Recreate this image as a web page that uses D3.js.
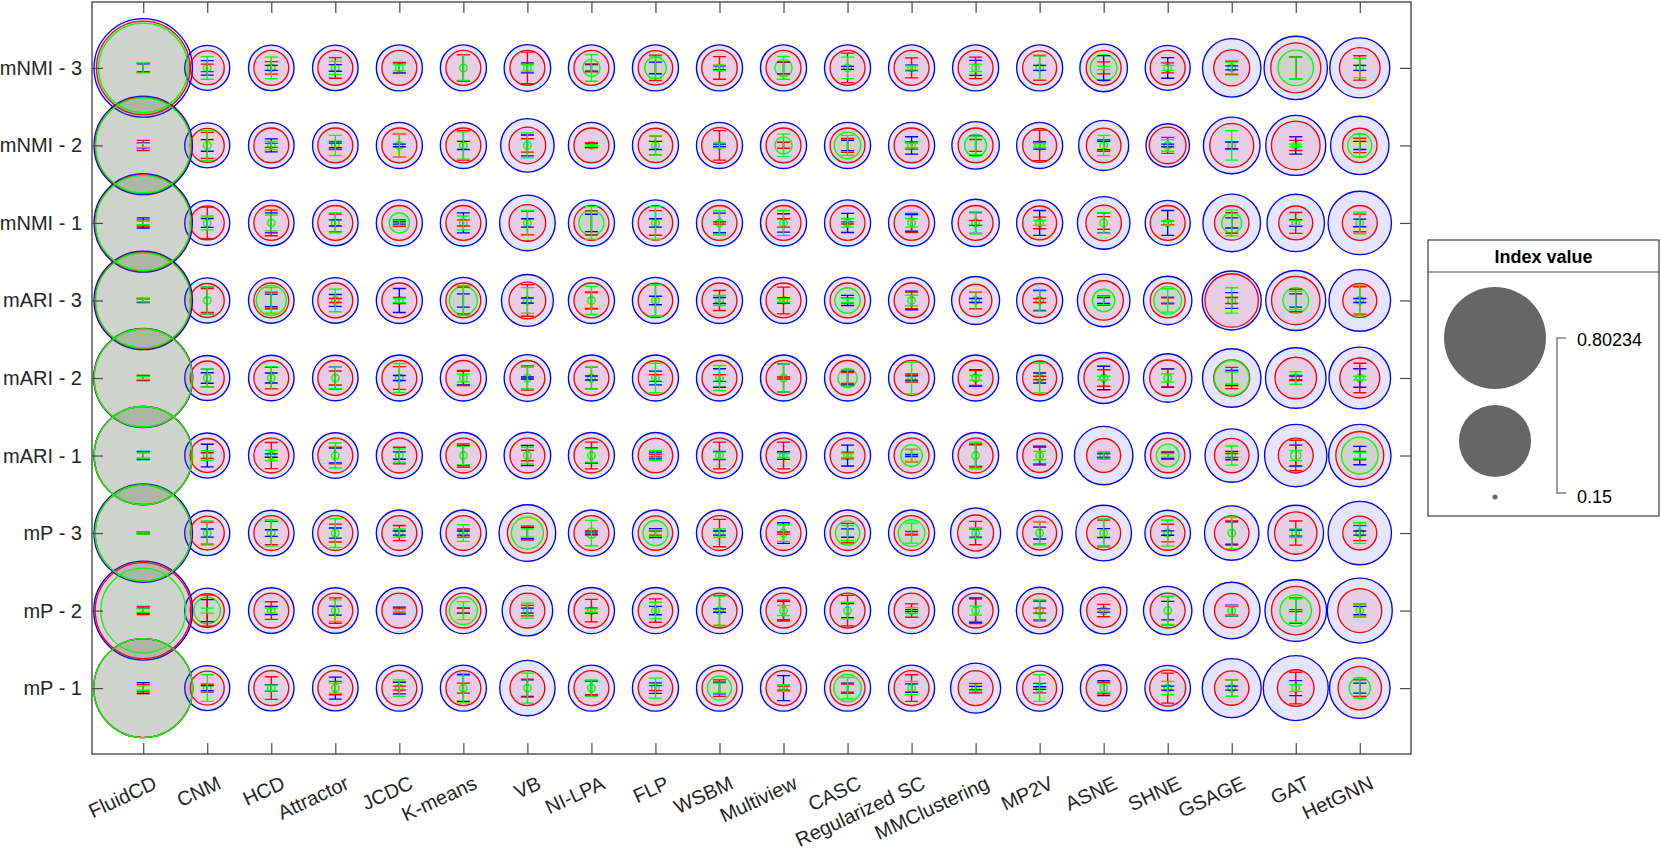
<!DOCTYPE html>
<html>
<head>
<meta charset="utf-8">
<script src="https://cdn.jsdelivr.net/npm/d3@7"></script>
<style>
  html, body { margin: 0; padding: 0; background: #ffffff; }
  svg { display: block; font-family: "Liberation Sans", Arial, Helvetica, sans-serif; }
</style>
</head>
<body>
<svg id="chart" width="1661" height="854"></svg>
<script>
// ---------------- DATA ----------------
const methods = ["FluidCD","CNM","HCD","Attractor","JCDC","K-means","VB","NI-LPA","FLP","WSBM",
  "Multiview","CASC","Regularized SC","MMClustering","MP2V","ASNE","SHNE","GSAGE","GAT","HetGNN"];
// rows listed top to bottom
const rowLabels = ["mNMI - 3","mNMI - 2","mNMI - 1","mARI - 3","mARI - 2","mARI - 1","mP - 3","mP - 2","mP - 1"];

const sizeLimits = [0.15, 0.80234];
const legendTitle = "Index value";
const legendLabels = ["0.80234", "0.15"];

// bubble values (index value), rows top to bottom, columns = methods
const blueVal = [
  [0.757,0.276,0.279,0.279,0.282,0.282,0.285,0.282,0.282,0.282,0.282,0.282,0.282,0.282,0.282,0.291,0.276,0.363,0.401,0.375],
  [0.757,0.276,0.279,0.279,0.282,0.282,0.328,0.282,0.282,0.282,0.282,0.282,0.282,0.290,0.282,0.306,0.267,0.350,0.375,0.363],
  [0.757,0.276,0.279,0.279,0.282,0.282,0.343,0.282,0.282,0.282,0.282,0.282,0.282,0.290,0.282,0.322,0.276,0.357,0.356,0.401],
  [0.757,0.276,0.279,0.279,0.282,0.282,0.318,0.282,0.282,0.282,0.282,0.282,0.282,0.293,0.282,0.322,0.296,0.367,0.375,0.387],
  [0.764,0.276,0.279,0.279,0.282,0.282,0.285,0.282,0.282,0.282,0.282,0.282,0.282,0.282,0.282,0.312,0.296,0.363,0.379,0.387],
  [0.757,0.276,0.279,0.279,0.282,0.282,0.285,0.282,0.282,0.282,0.282,0.282,0.282,0.282,0.278,0.363,0.279,0.328,0.393,0.393],
  [0.757,0.276,0.279,0.279,0.282,0.282,0.350,0.282,0.282,0.282,0.282,0.282,0.282,0.306,0.278,0.343,0.279,0.335,0.343,0.401],
  [0.764,0.276,0.279,0.279,0.282,0.282,0.309,0.282,0.282,0.282,0.282,0.282,0.282,0.282,0.285,0.285,0.296,0.350,0.387,0.414],
  [0.764,0.276,0.279,0.279,0.282,0.282,0.341,0.282,0.282,0.282,0.282,0.282,0.282,0.306,0.282,0.285,0.279,0.367,0.414,0.379]
];
const redVal = [
  [0.697,0.221,0.225,0.225,0.225,0.225,0.225,0.225,0.223,0.228,0.225,0.225,0.225,0.225,0.221,0.225,0.225,0.230,0.306,0.252],
  [0.728,0.221,0.225,0.225,0.225,0.225,0.233,0.225,0.223,0.228,0.225,0.225,0.225,0.225,0.221,0.224,0.233,0.270,0.297,0.223],
  [0.728,0.221,0.225,0.225,0.225,0.225,0.233,0.225,0.223,0.225,0.225,0.225,0.225,0.225,0.221,0.228,0.225,0.223,0.221,0.225],
  [0.728,0.221,0.225,0.225,0.225,0.225,0.233,0.225,0.223,0.225,0.225,0.225,0.225,0.215,0.221,0.246,0.225,0.328,0.296,0.221],
  [0.757,0.221,0.225,0.225,0.225,0.225,0.225,0.225,0.223,0.225,0.225,0.225,0.225,0.225,0.221,0.246,0.230,0.230,0.257,0.249],
  [0.752,0.221,0.225,0.225,0.225,0.225,0.225,0.225,0.223,0.225,0.225,0.225,0.225,0.225,0.221,0.221,0.223,0.223,0.225,0.293],
  [0.728,0.221,0.225,0.225,0.225,0.225,0.249,0.225,0.223,0.225,0.225,0.225,0.225,0.230,0.221,0.221,0.223,0.223,0.261,0.221],
  [0.728,0.221,0.225,0.225,0.225,0.225,0.225,0.225,0.223,0.225,0.225,0.225,0.225,0.225,0.221,0.221,0.225,0.223,0.296,0.270],
  [0.764,0.221,0.225,0.225,0.225,0.225,0.225,0.225,0.223,0.225,0.225,0.225,0.225,0.225,0.221,0.225,0.230,0.223,0.233,0.267]
];
const greenVal = [
  [0.651,0.152,0.152,0.152,0.152,0.152,0.152,0.167,0.178,0.152,0.167,0.152,0.152,0.152,0.152,0.193,0.152,0.152,0.228,0.152],
  [0.716,0.152,0.152,0.152,0.152,0.152,0.152,0.152,0.152,0.152,0.167,0.193,0.152,0.179,0.154,0.152,0.152,0.152,0.152,0.185],
  [0.716,0.152,0.152,0.152,0.174,0.152,0.152,0.188,0.152,0.152,0.152,0.152,0.152,0.152,0.152,0.152,0.152,0.174,0.152,0.152],
  [0.716,0.152,0.205,0.152,0.152,0.198,0.152,0.152,0.152,0.152,0.152,0.189,0.152,0.152,0.152,0.180,0.197,0.152,0.190,0.152],
  [0.752,0.152,0.152,0.152,0.152,0.152,0.152,0.152,0.152,0.152,0.152,0.172,0.152,0.152,0.152,0.152,0.152,0.225,0.152,0.152],
  [0.752,0.152,0.152,0.152,0.152,0.152,0.152,0.152,0.152,0.152,0.152,0.152,0.178,0.152,0.152,0.152,0.181,0.152,0.155,0.233],
  [0.728,0.152,0.152,0.152,0.152,0.152,0.213,0.155,0.188,0.152,0.152,0.186,0.193,0.152,0.152,0.152,0.152,0.152,0.152,0.152],
  [0.603,0.193,0.152,0.152,0.152,0.198,0.152,0.152,0.152,0.152,0.152,0.152,0.152,0.152,0.152,0.152,0.152,0.152,0.211,0.152],
  [0.764,0.152,0.152,0.152,0.152,0.152,0.152,0.152,0.152,0.185,0.152,0.196,0.152,0.152,0.152,0.152,0.152,0.152,0.152,0.177]
];

// error bar half-lengths (in row units), rows top to bottom
const blueErr = [
  [0.052,0.093,0.032,0.043,0.065,0.168,0.065,0.043,0.075,0.026,0.075,0.019,0.036,0.097,0.032,0.159,0.133,0.026,0.139,0.032],
  [0.032,0.075,0.084,0.030,0.017,0.052,0.135,0.026,0.052,0.017,0.039,0.067,0.112,0.123,0.048,0.054,0.017,0.043,0.112,0.052],
  [0.065,0.058,0.129,0.039,0.015,0.129,0.054,0.112,0.054,0.126,0.119,0.123,0.107,0.135,0.161,0.129,0.161,0.065,0.043,0.049],
  [0.026,0.172,0.081,0.077,0.155,0.086,0.032,0.107,0.055,0.039,0.032,0.065,0.120,0.026,0.129,0.039,0.039,0.101,0.086,0.026],
  [0.032,0.068,0.065,0.139,0.032,0.090,0.013,0.026,0.088,0.119,0.183,0.090,0.028,0.107,0.065,0.151,0.119,0.097,0.026,0.119],
  [0.052,0.146,0.022,0.097,0.048,0.129,0.129,0.097,0.043,0.052,0.049,0.135,0.013,0.146,0.120,0.026,0.036,0.054,0.135,0.119],
  [0.013,0.052,0.043,0.065,0.026,0.026,0.071,0.015,0.058,0.026,0.133,0.054,0.019,0.054,0.077,0.058,0.028,0.145,0.039,0.026],
  [0.032,0.142,0.052,0.058,0.045,0.032,0.032,0.032,0.054,0.022,0.119,0.090,0.013,0.151,0.123,0.022,0.119,0.071,0.161,0.054],
  [0.071,0.032,0.043,0.142,0.075,0.172,0.107,0.090,0.068,0.075,0.161,0.065,0.054,0.022,0.017,0.097,0.026,0.026,0.097,0.065]
];
const redErr = [
  [0.058,0.048,0.081,0.133,0.071,0.168,0.204,0.052,0.165,0.146,0.075,0.190,0.129,0.139,0.161,0.077,0.065,0.086,0.138,0.157],
  [0.065,0.168,0.026,0.052,0.151,0.190,0.086,0.032,0.119,0.190,0.039,0.090,0.048,0.077,0.197,0.075,0.103,0.049,0.065,0.093],
  [0.039,0.204,0.165,0.116,0.043,0.039,0.151,0.155,0.159,0.015,0.054,0.013,0.123,0.032,0.075,0.081,0.026,0.133,0.135,0.114],
  [0.019,0.155,0.107,0.026,0.039,0.172,0.204,0.101,0.204,0.129,0.172,0.032,0.107,0.107,0.026,0.061,0.039,0.039,0.145,0.177],
  [0.026,0.114,0.139,0.090,0.146,0.097,0.157,0.139,0.043,0.043,0.013,0.071,0.052,0.097,0.022,0.107,0.114,0.138,0.032,0.190],
  [0.045,0.036,0.168,0.107,0.107,0.151,0.068,0.172,0.017,0.172,0.172,0.043,0.080,0.139,0.107,0.026,0.049,0.026,0.197,0.054],
  [0.013,0.142,0.151,0.116,0.097,0.052,0.090,0.026,0.026,0.177,0.013,0.125,0.022,0.151,0.145,0.168,0.114,0.155,0.155,0.097],
  [0.052,0.200,0.114,0.164,0.032,0.032,0.068,0.145,0.151,0.194,0.135,0.197,0.086,0.168,0.032,0.080,0.183,0.058,0.013,0.086],
  [0.049,0.052,0.146,0.086,0.026,0.065,0.116,0.086,0.032,0.107,0.026,0.052,0.172,0.061,0.061,0.075,0.194,0.107,0.204,0.107]
];
const greenErr = [
  [0.065,0.146,0.139,0.084,0.039,0.161,0.041,0.172,0.142,0.036,0.146,0.138,0.026,0.048,0.151,0.022,0.032,0.075,0.138,0.125],
  [0.026,0.194,0.052,0.129,0.155,0.177,0.161,0.013,0.123,0.032,0.145,0.129,0.028,0.119,0.022,0.129,0.075,0.190,0.017,0.146],
  [0.022,0.090,0.103,0.129,0.032,0.090,0.161,0.210,0.210,0.155,0.161,0.054,0.054,0.139,0.032,0.133,0.032,0.165,0.032,0.139],
  [0.019,0.174,0.165,0.146,0.026,0.194,0.165,0.181,0.204,0.065,0.022,0.026,0.068,0.114,0.139,0.054,0.151,0.164,0.119,0.194],
  [0.019,0.116,0.146,0.138,0.187,0.048,0.139,0.142,0.190,0.161,0.183,0.107,0.204,0.032,0.194,0.022,0.054,0.077,0.080,0.022],
  [0.032,0.061,0.068,0.161,0.086,0.119,0.107,0.086,0.065,0.043,0.026,0.026,0.077,0.172,0.054,0.049,0.022,0.123,0.065,0.039],
  [0.013,0.155,0.168,0.187,0.052,0.107,0.052,0.164,0.043,0.054,0.107,0.097,0.129,0.065,0.151,0.183,0.168,0.204,0.054,0.133],
  [0.022,0.032,0.032,0.139,0.013,0.116,0.097,0.022,0.107,0.187,0.065,0.107,0.039,0.058,0.139,0.013,0.178,0.068,0.152,0.086],
  [0.028,0.172,0.039,0.065,0.107,0.190,0.194,0.107,0.129,0.065,0.043,0.139,0.086,0.036,0.172,0.054,0.086,0.107,0.043,0.129]
];

const series = [
  {name: "blue",  color: "#0000ff", val: blueVal,  err: blueErr},
  {name: "red",   color: "#ff0000", val: redVal,   err: redErr},
  {name: "green", color: "#00ff00", val: greenVal, err: greenErr}
];

// ---------------- LAYOUT ----------------
const svg = d3.select("#chart");
const plotArea = {left: 92, right: 1411, top: 2, bottom: 754};
const axisColor = "#4a4a4a";
const textColor = "#262626";

const x = d3.scaleLinear().domain([0.2, 20.8]).range([plotArea.left, plotArea.right]);
const y = d3.scaleLinear().domain([0.15, 9.85]).range([plotArea.bottom, plotArea.top]);
const rowY = i => rowLabels.length - i;   // top row -> 9
const colX = j => j + 1;

// bubble size: area linear in value between size limits
const areaScale = d3.scaleLinear().domain(sizeLimits).range([2.5 * 2.5, 51 * 51]);
const radius = v => Math.sqrt(Math.max(0, areaScale(v)));

function cells(s) {
  const out = [];
  s.val.forEach((row, i) => row.forEach((v, j) => out.push({i, j, v, e: s.err[i][j]})));
  return out;
}

const gBubbles = svg.append("g");
series.forEach(s => {
  gBubbles.append("g").selectAll("circle").data(cells(s)).join("circle")
    .attr("cx", d => x(colX(d.j)))
    .attr("cy", d => y(rowY(d.i)))
    .attr("r", d => radius(d.v))
    .attr("fill", s.color).attr("fill-opacity", 0.1)
    .attr("stroke", s.color).attr("stroke-width", 1.35);
});

// error bars
const cap = 6.5;
const gErr = svg.append("g");
series.forEach(s => {
  const g = gErr.append("g").attr("stroke", s.color).attr("stroke-width", 1.35).attr("fill", "none");
  g.selectAll("path").data(cells(s)).join("path")
    .attr("d", d => {
      const cx = x(colX(d.j));
      const y1 = y(rowY(d.i) + d.e), y2 = y(rowY(d.i) - d.e);
      return `M${cx},${y1}V${y2}M${cx - cap},${y1}H${cx + cap}M${cx - cap},${y2}H${cx + cap}`;
    });
});

// ---------------- AXES ----------------
const xTicks = methods.map((m, j) => colX(j));
const yTicks = rowLabels.map((r, i) => rowY(i));
const gAx = svg.append("g");

const axBottom = gAx.append("g").attr("transform", `translate(0,${plotArea.bottom})`)
  .call(d3.axisBottom(x).tickValues(xTicks).tickSize(-11).tickFormat(""));
const axTop = gAx.append("g").attr("transform", `translate(0,${plotArea.top})`)
  .call(d3.axisTop(x).tickValues(xTicks).tickSize(-11).tickFormat(""));
const axLeft = gAx.append("g").attr("transform", `translate(${plotArea.left},0)`)
  .call(d3.axisLeft(y).tickValues(yTicks).tickSize(-11).tickFormat(""));
const axRight = gAx.append("g").attr("transform", `translate(${plotArea.right},0)`)
  .call(d3.axisRight(y).tickValues(yTicks).tickSize(-11).tickFormat(""));

[axBottom, axTop, axLeft, axRight].forEach(a => {
  a.selectAll(".domain").remove();
  a.selectAll("line").attr("stroke", axisColor).attr("stroke-width", 1.2);
});
gAx.append("rect")
  .attr("x", plotArea.left).attr("y", plotArea.top)
  .attr("width", plotArea.right - plotArea.left).attr("height", plotArea.bottom - plotArea.top)
  .attr("fill", "none").attr("stroke", axisColor).attr("stroke-width", 1.4);

// y tick labels
gAx.append("g").selectAll("text").data(rowLabels).join("text")
  .attr("x", 82).attr("y", (d, i) => y(rowY(i)))
  .attr("dy", "0.35em")
  .attr("text-anchor", "end")
  .attr("font-size", 20).attr("fill", textColor)
  .text(d => d);

// x tick labels (rotated)
const labelAngle = -25;
gAx.append("g").selectAll("text").data(methods).join("text")
  .attr("transform", (d, j) => `translate(${x(colX(j)) + 15},${plotArea.bottom + 34}) rotate(${labelAngle})`)
  .attr("text-anchor", "end")
  .attr("font-size", 20).attr("fill", textColor)
  .text(d => d);

// ---------------- LEGEND ----------------
const lg = svg.append("g");
const lgBox = {x: 1428, y: 240, w: 231, h: 276};
lg.append("rect").attr("x", lgBox.x).attr("y", lgBox.y).attr("width", lgBox.w).attr("height", lgBox.h)
  .attr("fill", "#ffffff").attr("stroke", "#404040").attr("stroke-width", 1.2);
lg.append("line").attr("x1", lgBox.x).attr("x2", lgBox.x + lgBox.w).attr("y1", 272).attr("y2", 272)
  .attr("stroke", "#404040").attr("stroke-width", 1.2);
lg.append("text").attr("x", lgBox.x + lgBox.w / 2).attr("y", 257).attr("dy", "0.35em")
  .attr("text-anchor", "middle").attr("font-weight", "bold").attr("font-size", 18).attr("fill", "#000")
  .text(legendTitle);

const midVal = (sizeLimits[0] + sizeLimits[1]) / 2;
const lgVals = [sizeLimits[1], midVal, sizeLimits[0]];
const lgCy = [338, 441, 497];
lg.selectAll("circle").data(lgVals).join("circle")
  .attr("cx", 1495).attr("cy", (d, i) => lgCy[i]).attr("r", d => radius(d))
  .attr("fill", "#666666");
lg.append("path")
  .attr("d", `M1566,${lgCy[0]}H1557V${lgCy[2] - 4}H1566`)
  .attr("fill", "none").attr("stroke", "#808080").attr("stroke-width", 1.5);
lg.append("text").attr("x", 1577).attr("y", lgCy[0] + 2).attr("dy", "0.35em")
  .attr("font-size", 18).attr("fill", "#000").text(legendLabels[0]);
lg.append("text").attr("x", 1577).attr("y", lgCy[2]).attr("dy", "0.35em")
  .attr("font-size", 18).attr("fill", "#000").text(legendLabels[1]);
</script>
</body>
</html>
